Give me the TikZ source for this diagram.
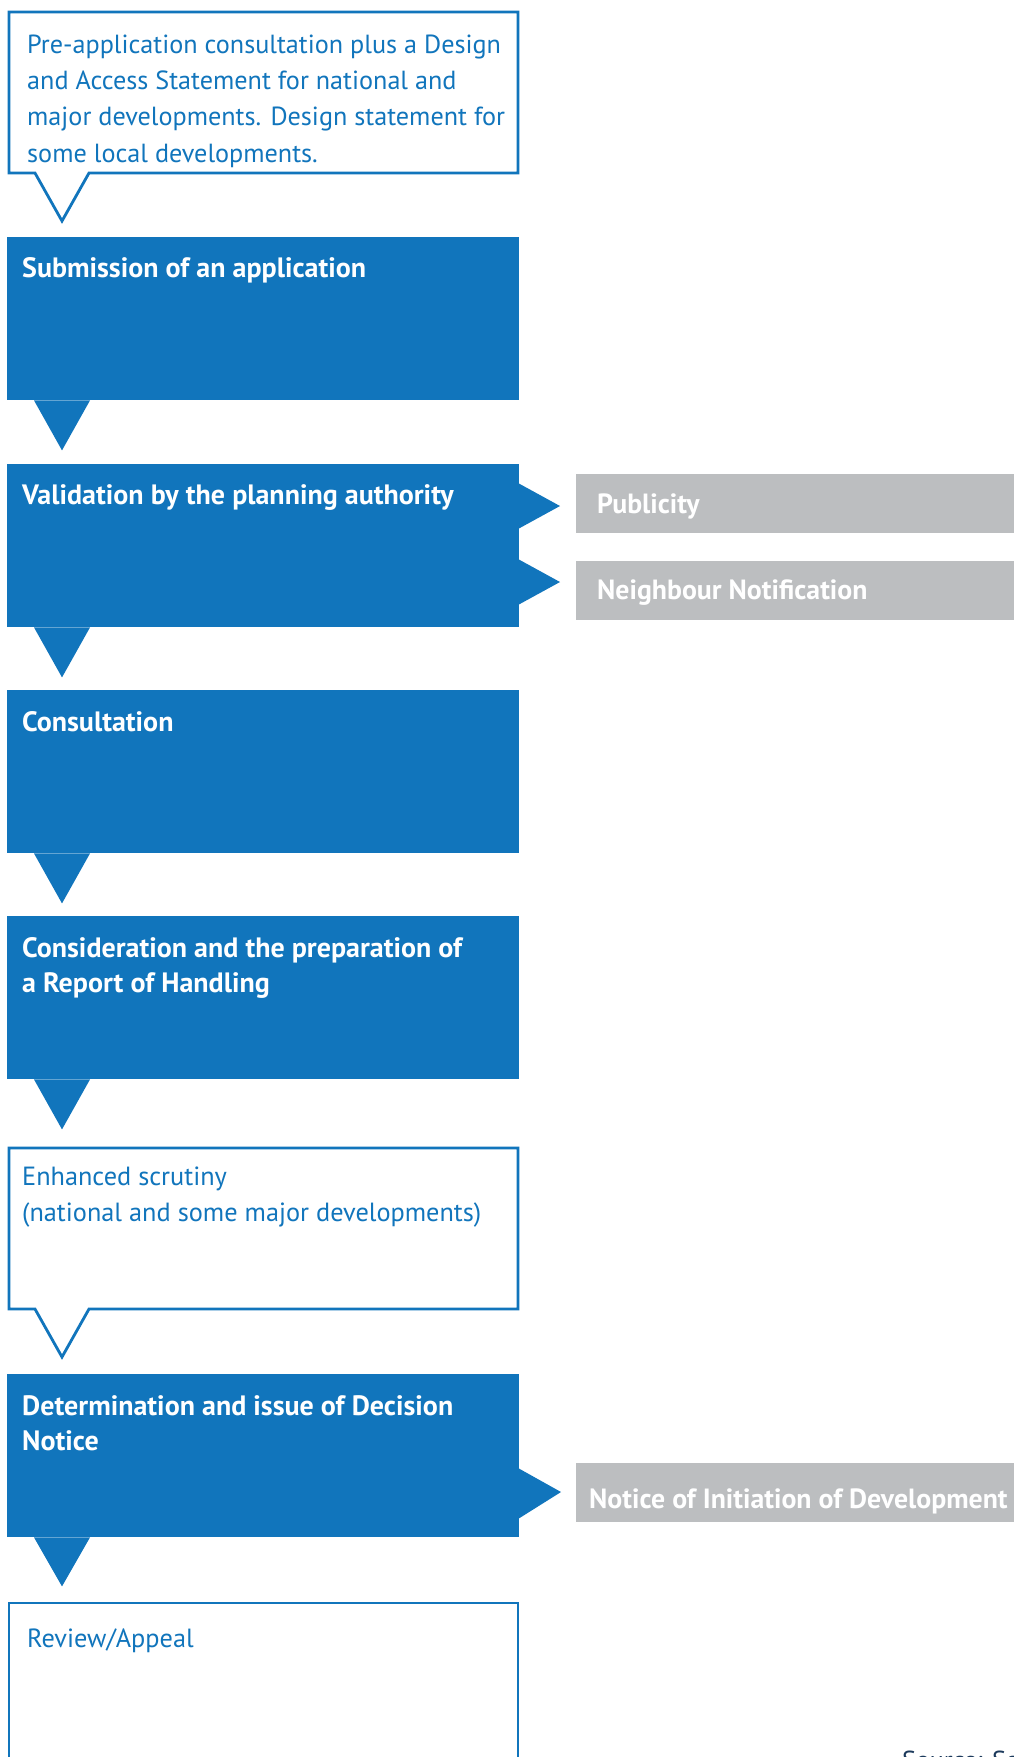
\documentclass[tikz,border=0pt]{standalone}
\usepackage{fontspec}
\setmainfont{PT Sans}
\definecolor{pblue}{RGB}{17,117,188}
\definecolor{pgray}{RGB}{188,190,192}
\definecolor{srcblue}{RGB}{28,58,92}
\begin{document}
\begin{tikzpicture}[x=1pt,y=-1pt,
  bluebox/.style={fill=pblue,draw=none,anchor=north west,inner sep=0pt,minimum width=512pt,minimum height=163pt},
  whitepath/.style={draw=pblue,line width=2.8pt,fill=white,line join=miter},
  graybox/.style={fill=pgray,draw=none,anchor=north west,inner sep=0pt,minimum width=440pt,minimum height=59pt},
  ttl/.style={anchor=base west,inner sep=0pt,text=white,font=\fontsize{28}{35}\selectfont\bfseries,align=left},
  txt/.style={anchor=base west,inner sep=0pt,text=pblue,font=\fontsize{26.3}{35.5}\selectfont,align=left},
  pretxt/.style={txt,font=\fontsize{26.2}{36.3}\selectfont},
  gtxt/.style={anchor=base west,inner sep=0pt,text=white,font=\fontsize{27.8}{35}\selectfont\bfseries},
  pointer/.style={fill=pblue,draw=none}
]
\useasboundingbox (0,0) rectangle (1014,1757);
\fill[white] (0,0) rectangle (1014,1757);

% --- pre-application callout
\draw[whitepath] (9,12) -- (518,12) -- (518,173) -- (89,173) -- (62,221) -- (35,173) -- (9,173) -- cycle;
\node[pretxt] (pre) at (27,162) {Pre-application consultation plus a Design\\and Access Statement for national and\\major developments. Design statement for\\some local developments.};

% --- submission
\node[bluebox] (sub) at (7,237) {};
\node[ttl] (subt) at (22,277) {Submission of an application};
\fill[pointer] ([xshift=27pt]sub.south west) -- ++(28,50) -- ++(28,-50) -- cycle;

% --- validation
\node[bluebox] (val) at (7,464) {};
\node[ttl] (valt) at (22,504) {Validation by the planning authority};
\fill[pointer] ([xshift=27pt]val.south west) -- ++(28,50) -- ++(28,-50) -- cycle;
\fill[pointer] (518,483) -- (560,506) -- (518,529) -- cycle;
\fill[pointer] (518,559) -- (560,582) -- (518,605) -- cycle;
\node[graybox] (pub) at (576,474) {};
\node[gtxt] at (597,513) {Publicity};
\node[graybox] (nei) at (576,561) {};
\node[gtxt] at (597,599) {Neighbour Notification};

% --- consultation
\node[bluebox] (con) at (7,690) {};
\node[ttl] (cont) at (22,731) {Consultation};
\fill[pointer] ([xshift=27pt]con.south west) -- ++(28,50) -- ++(28,-50) -- cycle;

% --- consideration
\node[bluebox] (cns) at (7,916) {};
\node[ttl] (cnst) at (22,992) {Consideration and the preparation of\\a Report of Handling};
\fill[pointer] ([xshift=27pt]cns.south west) -- ++(28,50) -- ++(28,-50) -- cycle;

% --- enhanced scrutiny
\draw[whitepath] (9,1148) -- (518,1148) -- (518,1309) -- (89,1309) -- (62,1357) -- (35,1309) -- (9,1309) -- cycle;
\node[txt] (enh) at (22,1221) {Enhanced scrutiny\\(national and some major developments)};

% --- determination
\node[bluebox] (det) at (7,1374) {};
\node[ttl] (dett) at (22,1450) {Determination and issue of Decision\\Notice};
\fill[pointer] ([xshift=27pt]det.south west) -- ++(28,49) -- ++(28,-49) -- cycle;
\fill[pointer] (518,1468) -- (561,1492) -- (518,1519) -- cycle;
\node[graybox] (noi) at (576,1463) {};
\node[gtxt] at (589,1508) {Notice of Initiation of Development};

% --- review / appeal
\draw[whitepath] (9,1790) -- (9,1603) -- (518,1603) -- (518,1790);
\node[txt] (rev) at (27,1647) {Review/Appeal};

% --- source
\node[anchor=base west,inner sep=0pt,text=srcblue,font=\fontsize{26}{30}\selectfont] (src) at (902,1769) {Source: Sc};
\end{tikzpicture}
\end{document}
